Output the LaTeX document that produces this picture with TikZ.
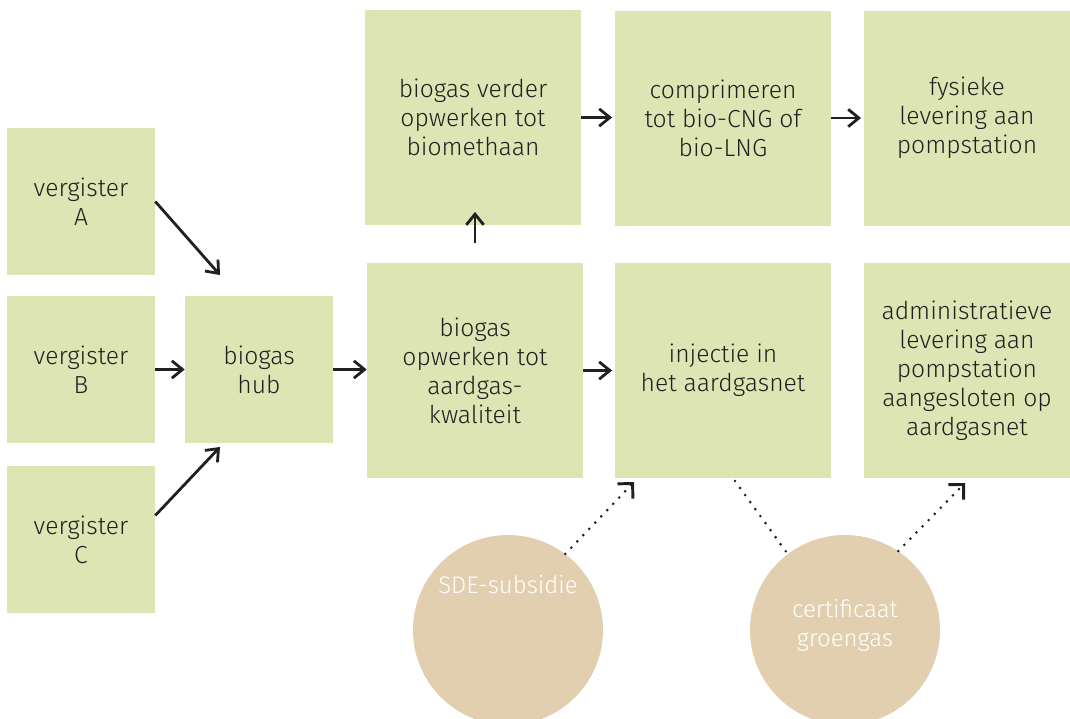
\documentclass[tikz,border=0pt]{standalone}
\usepackage{fontspec}
\setmainfont{Fira Sans Light}
\usetikzlibrary{arrows.meta}

\definecolor{boxgreen}{RGB}{220,229,179}
\definecolor{blobtan}{RGB}{226,207,176}
\definecolor{inkgray}{RGB}{35,31,32}

\tikzset{
  boxtxt/.style={text=inkgray, align=center, inner sep=0pt, font=\fontsize{18.5}{21.75}\selectfont},
  smallbox/.style={boxtxt, fill=boxgreen, minimum width=111pt, minimum height=110.25pt},
  bigbox/.style={boxtxt, fill=boxgreen, minimum width=162pt, minimum height=161.25pt},
  sidebox/.style={boxtxt, fill=boxgreen, minimum width=154.5pt, minimum height=161.25pt},
  blob/.style={circle, fill=blobtan, minimum size=142.5pt, inner sep=0pt},
  blobtxt/.style={text=white, align=center, inner sep=0pt, font=\fontsize{18}{21.75}\selectfont},
  arr/.style={draw=inkgray, line width=2.1pt, -{Straight Barb[length=8pt,width=13pt]}},
  dotarr/.style={draw=inkgray, line width=2.2pt, line cap=round, dash pattern=on 0pt off 6.5pt},
}

\begin{document}
\begin{tikzpicture}[x=0.75pt,y=0.75pt,yscale=-1]
\useasboundingbox (0,0) rectangle (1070,718);

% vergisters
\node[smallbox] (vA) at (81,201.5) {vergister\\A};
\node[smallbox] (vB) at (81,369.5) {vergister\\B};
\node[smallbox] (vC) at (81,539.5) {vergister\\C};
\node[smallbox] (hub) at (259,369.5) {biogas\\hub};

% upgrading chain
\node[bigbox] (opw) at (475,370.5) {biogas\\opwerken tot\\aardgas-\\kwaliteit};
\node[bigbox] (verder) at (473,117.5) {biogas verder\\opwerken tot\\biomethaan};
\node[bigbox] (compr) at (723,118) {comprimeren\\tot bio-CNG of\\bio-LNG};
\node[sidebox] (fys) at (967,118) {fysieke\\levering aan\\pompstation};
\node[bigbox] (inj) at (723,370.5) {injectie in\\het aardgasnet};
\node[sidebox] (admin) at (967,370.5) {administratieve\\levering aan\\pompstation\\aangesloten op\\aardgasnet};

% circles
\node[blob] (sde) at (508,630) {};
\node[blobtxt] (sdetxt) at (508,585) {SDE-subsidie};
\node[blob] (cert) at (845,630) {};
\node[blobtxt] (certtxt) at (845,625) {certificaat\\groengas};

% free ends
\coordinate (hubinA) at (220,275);
\coordinate (hubinC) at (220,447);
\coordinate (injin) at (634,482);
\coordinate (injout) at (735,481);
\coordinate (adminin) at (965,483);

% arrows
\draw[arr] (vA.east) -- (hubinA);
\draw[arr] (vB) -- (hub);
\draw[arr] ([yshift=-18pt]vC.east) -- (hubinC);
\draw[arr] (hub.east) -- (hub.east -| opw.west);
\draw[arr] ([yshift=-15pt]opw.north) -- ([yshift=-10pt]opw.north |- verder.south);
\draw[arr] (opw.east) -- ([xshift=-2pt]opw.east -| inj.west);
\draw[arr] (verder) -- ([xshift=-2pt]verder -| compr.west);
\draw[arr] (compr) -- ([xshift=-2pt]compr -| fys.west);

% dotted links
\draw[dotarr, -{Straight Barb[length=8pt,width=16pt]}] (sde.53) -- (injin);
\draw[dotarr] (injout) -- (cert.127);
\draw[dotarr, -{Straight Barb[length=8pt,width=16pt]}] (cert.56) -- (adminin);
\end{tikzpicture}
\end{document}
